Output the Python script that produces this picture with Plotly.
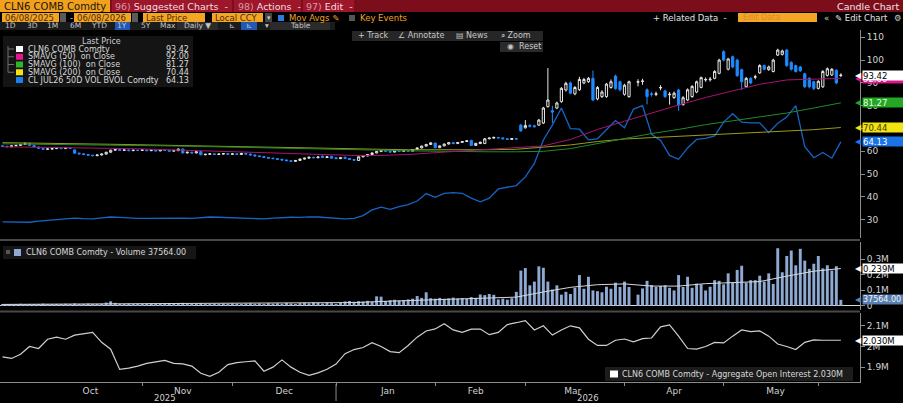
import pandas as pd
import plotly.graph_objects as go

W, H = 903, 403
FONT = "DejaVu Sans"

# Trading days on the chart (weekdays from the first bar; Good Friday has no data)
START = "2025-09-19"
N_DAYS = 187

open_px = [
    62.4, 62.2, 62.0, 62.4, 62.6, 63.0, 63.5, 62.6, 61.9, 61.3,
    60.9, 61.0, 61.2, 61.4, 61.2, 61.5, 60.6, 59.2, 58.9, 58.6,
    58.3, 58.1, 58.4, 58.8, 59.6, 60.5, 60.8, 60.4, 60.6, 60.3,
    60.5, 60.4, 60.6, 60.3, 60.5, 60.2, 60.7, 60.4, 60.1, 60.3,
    61.0, 59.3, 59.6, 59.3, 59.9, 58.5, 58.7, 58.9, 58.6, 58.8,
    59.0, 58.7, 58.9, 58.6, 59.1, 58.8, 58.4, 58.0, 57.7, 57.3,
    57.0, 56.8, 56.5, 56.2, 55.9, 55.6, 56.0, 56.6, 57.0, 57.4,
    57.2, 57.9, 57.3, 57.8, 57.2, 56.8, 57.4, 56.9, 56.4, 56.0,
    57.6, 58.0, 58.6, 59.3, 59.9, 60.4, 60.0, 59.7, 60.2, 60.0,
    60.3, 60.1, 60.8, 61.5, 62.3, 63.0, 63.6, 61.6, 62.4, 63.2,
    63.8, 63.4, 63.9, 64.3, 64.8, 62.6, 63.4, 63.4, 65.5, 65.8,
    66.1, 65.9, 65.5, 65.2, 65.6, 71.5, 70.3, 71.4, 71.2, 71.5,
    72.4, 79.6, 77.8, 79.0, 81.8, 86.9, 90.0, 85.2, 87.0, 90.0,
    90.5, 92.0, 83.0, 84.0, 84.0, 88.0, 93.0, 90.5, 85.0, 84.0,
    None, 90.3, 90.6, 87.0, 85.2, 85.0, 87.8, 86.5, 84.8, 83.6,
    86.9, 80.5, 82.5, 84.0, 86.0, 88.0, 91.3, 91.4, 92.0, 94.2,
    103.7, 96.0, 101.5, 100.0, 95.8, 88.3, 92.0, 92.5, 94.4, 97.6,
    95.8, 95.0, 102.2, 102.5, 104.4, 99.0, 97.6, 97.0, 94.0, 92.0,
    90.5, 87.6, 88.3, 93.3, 93.5, 95.5, 93.2,
]
high_px = [
    62.7, 62.5, 62.6, 62.9, 63.3, 63.9, 63.7, 62.8, 62.1, 61.5,
    61.3, 61.5, 61.7, 61.6, 61.8, 61.7, 60.9, 59.4, 59.1, 58.8,
    58.5, 58.6, 59.0, 59.8, 60.7, 61.1, 61.0, 60.8, 60.8, 60.7,
    60.7, 60.8, 60.8, 60.7, 60.7, 60.9, 60.9, 60.6, 60.5, 61.2,
    61.2, 59.8, 59.8, 60.1, 60.1, 58.9, 59.1, 59.1, 59.0, 59.2,
    59.2, 59.1, 59.1, 59.3, 59.3, 59.0, 58.6, 58.2, 57.9, 57.5,
    57.2, 57.0, 56.7, 56.4, 56.1, 56.2, 56.8, 57.2, 57.6, 57.6,
    57.7, 58.1, 57.8, 58.0, 57.4, 57.4, 57.6, 57.1, 56.6, 57.8,
    58.2, 58.8, 59.5, 60.1, 60.6, 60.6, 60.2, 60.4, 60.4, 60.5,
    60.5, 61.0, 61.7, 62.5, 63.3, 64.0, 63.8, 62.6, 63.4, 64.1,
    64.0, 64.1, 64.5, 64.9, 65.0, 63.7, 64.2, 65.8, 66.1, 66.4,
    66.3, 66.1, 65.7, 65.8, 65.8, 72.0, 73.7, 71.8, 71.6, 74.2,
    79.5, 96.5, 80.0, 81.8, 88.2, 90.5, 90.6, 88.6, 92.7, 92.2,
    92.6, 95.4, 88.6, 86.8, 90.0, 91.5, 93.6, 91.0, 89.6, 91.0,
    None, 91.6, 91.8, 87.6, 86.0, 86.2, 89.0, 87.0, 86.0, 86.2,
    87.4, 84.2, 87.6, 89.0, 91.0, 92.8, 92.4, 92.6, 95.6, 100.6,
    104.3, 101.0, 102.0, 100.6, 96.3, 92.6, 92.5, 93.6, 98.2, 98.0,
    97.6, 100.6, 105.0, 104.6, 104.9, 99.5, 98.0, 97.5, 94.5, 92.5,
    91.0, 91.2, 95.6, 96.8, 96.5, 96.0, 94.2,
]
low_px = [
    61.9, 61.8, 61.8, 62.2, 62.4, 62.8, 62.4, 61.7, 61.0, 60.6,
    60.7, 60.8, 61.0, 61.0, 61.0, 61.1, 58.9, 58.6, 58.3, 58.0,
    57.8, 57.9, 58.2, 58.6, 59.4, 60.3, 60.2, 60.2, 60.1, 60.1,
    60.2, 60.2, 60.1, 60.1, 60.0, 60.0, 60.2, 59.9, 59.9, 60.1,
    59.1, 59.1, 59.1, 59.1, 58.3, 58.3, 58.5, 58.4, 58.4, 58.6,
    58.5, 58.5, 58.4, 58.4, 58.6, 58.2, 57.8, 57.5, 57.1, 56.8,
    56.6, 56.3, 56.0, 55.7, 55.3, 55.4, 55.8, 56.4, 56.8, 57.0,
    57.0, 57.1, 57.1, 56.8, 56.6, 56.6, 56.7, 56.2, 55.9, 55.8,
    57.4, 57.8, 58.4, 59.1, 59.7, 59.8, 59.5, 59.5, 59.8, 59.8,
    59.9, 59.9, 60.6, 61.3, 62.1, 62.8, 61.3, 61.4, 62.2, 63.0,
    63.2, 63.2, 63.7, 64.1, 62.4, 62.4, 63.2, 63.2, 65.3, 65.6,
    65.7, 65.3, 65.0, 65.0, 65.2, 68.6, 70.0, 70.5, 70.4, 71.2,
    72.0, 79.2, 72.4, 78.5, 81.3, 86.2, 85.0, 84.6, 86.5, 89.4,
    90.0, 82.0, 82.4, 83.4, 83.5, 87.5, 87.0, 86.3, 84.4, 83.5,
    None, 88.5, 89.2, 80.6, 84.0, 84.2, 86.8, 83.4, 80.5, 83.0,
    77.8, 80.0, 82.0, 83.5, 85.5, 87.6, 90.5, 90.6, 91.6, 93.8,
    99.4, 95.5, 96.4, 92.6, 86.9, 87.8, 89.4, 91.6, 94.0, 95.5,
    95.3, 94.6, 101.8, 102.0, 97.0, 95.4, 94.5, 94.8, 87.8, 87.6,
    86.8, 87.1, 87.8, 92.8, 93.0, 89.4, 92.6,
]
close_px = [
    62.2, 62.0, 62.4, 62.6, 63.0, 63.5, 62.6, 61.9, 61.3, 60.9,
    61.0, 61.2, 61.4, 61.2, 61.5, 61.3, 59.2, 58.9, 58.6, 58.3,
    58.1, 58.4, 58.8, 59.6, 60.5, 60.8, 60.4, 60.6, 60.3, 60.5,
    60.4, 60.6, 60.3, 60.5, 60.2, 60.7, 60.4, 60.1, 60.3, 61.0,
    59.3, 59.6, 59.3, 59.8, 58.5, 58.7, 58.9, 58.6, 58.8, 59.0,
    58.7, 58.9, 58.6, 59.1, 58.8, 58.4, 58.0, 57.7, 57.3, 57.0,
    56.8, 56.5, 56.2, 55.9, 55.6, 56.0, 56.6, 57.0, 57.4, 57.2,
    57.5, 57.3, 57.6, 57.0, 56.8, 57.2, 56.9, 56.4, 56.1, 57.6,
    58.0, 58.6, 59.3, 59.9, 60.4, 60.0, 59.7, 60.2, 60.0, 60.3,
    60.1, 60.8, 61.5, 62.3, 63.0, 63.7, 61.6, 62.4, 63.2, 63.8,
    63.4, 63.9, 64.3, 64.6, 62.6, 63.5, 64.0, 65.5, 65.8, 66.1,
    65.9, 65.5, 65.2, 65.6, 65.4, 69.0, 71.3, 71.0, 70.8, 73.7,
    79.0, 82.5, 77.2, 81.2, 87.6, 89.8, 85.5, 88.0, 91.5, 91.5,
    92.0, 82.5, 88.0, 86.0, 89.5, 90.5, 87.5, 87.0, 89.0, 90.5,
    None, 90.5, 90.8, 84.0, 85.0, 85.2, 88.0, 84.0, 85.0, 85.5,
    80.3, 83.5, 87.0, 88.5, 90.5, 92.3, 91.5, 91.6, 95.0, 100.0,
    100.0, 100.5, 97.0, 93.2, 90.5, 92.0, 90.0, 92.7, 97.6, 96.0,
    97.0, 100.0, 104.4, 104.0, 97.6, 96.0, 95.0, 95.3, 88.3, 88.3,
    87.6, 90.7, 95.0, 96.2, 96.0, 90.0, 93.42,
]

# daily volume, millions of contracts
volume_m = [
    0.008, 0.006, 0.010, 0.007, 0.012, 0.009, 0.011, 0.008, 0.010, 0.013,
    0.007, 0.009, 0.011, 0.008, 0.012, 0.010, 0.014, 0.009, 0.011, 0.013,
    0.010, 0.008, 0.012, 0.020, 0.028, 0.018, 0.011, 0.009, 0.013, 0.010,
    0.012, 0.009, 0.011, 0.014, 0.010, 0.012, 0.009, 0.013, 0.011, 0.015,
    0.018, 0.012, 0.010, 0.013, 0.016, 0.011, 0.009, 0.012, 0.010, 0.013,
    0.011, 0.014, 0.012, 0.010, 0.013, 0.015, 0.012, 0.014, 0.011, 0.016,
    0.013, 0.015, 0.012, 0.017, 0.014, 0.011, 0.016, 0.018, 0.015, 0.020,
    0.017, 0.014, 0.019, 0.016, 0.012, 0.018, 0.027, 0.030, 0.025, 0.029,
    0.026, 0.031, 0.024, 0.060, 0.058, 0.030, 0.035, 0.038, 0.033, 0.036,
    0.040, 0.045, 0.062, 0.050, 0.086, 0.048, 0.045, 0.050, 0.044, 0.047,
    0.052, 0.046, 0.049, 0.043, 0.055, 0.050, 0.072, 0.068, 0.075, 0.070,
    0.040, 0.045, 0.038, 0.048, 0.089, 0.226, 0.242, 0.131, 0.155, 0.253,
    0.244, 0.155, 0.104, 0.131, 0.071, 0.089, 0.075, 0.115, 0.197, 0.109,
    0.186, 0.098, 0.093, 0.086, 0.122, 0.109, 0.148, 0.120, 0.155, 0.120,
    None, 0.071, 0.111, 0.160, 0.133, 0.120, 0.126, 0.131, 0.115, 0.098,
    0.197, 0.120, 0.186, 0.115, 0.142, 0.137, 0.098, 0.122, 0.164, 0.160,
    0.137, 0.208, 0.148, 0.230, 0.257, 0.148, 0.164, 0.164, 0.193, 0.155,
    0.208, 0.140, 0.370, 0.215, 0.320, 0.355, 0.260, 0.366, 0.290, 0.237,
    0.270, 0.320, 0.240, 0.260, 0.226, 0.254, 0.0376,
]

# every 6th trading day: moving averages
sma50 = [62.0, 61.9, 61.7, 61.5, 61.3, 61.1, 60.8, 60.2, 59.9, 59.6, 59.3, 58.9, 58.5, 58.2, 58.2, 58.6,
         59.4, 60.2, 60.9, 61.6, 62.4, 65.2, 69.6, 73.2, 76.8, 80.3, 83.6, 86.6, 89.4, 91.3, 91.7, 92.0]
sma100 = [63.3, 63.2, 63.1, 63.0, 62.8, 62.6, 62.4, 62.2, 62.0, 61.8, 61.6, 61.4, 61.1, 60.8, 60.5, 60.2,
          60.0, 59.9, 59.8, 59.8, 60.0, 61.2, 63.4, 65.8, 67.8, 69.6, 71.7, 73.4, 75.0, 76.8, 79.0, 81.27]
sma200 = [63.8, 63.7, 63.5, 63.3, 63.1, 62.9, 62.6, 62.4, 62.2, 62.0, 61.8, 61.5, 61.3, 61.1, 60.9, 60.7,
          60.6, 60.6, 60.7, 60.9, 61.7, 62.8, 64.3, 65.4, 66.0, 66.6, 67.1, 67.6, 68.2, 68.7, 69.5, 70.44]
vol_ma_m = [0.008, 0.009, 0.010, 0.011, 0.011, 0.012, 0.012, 0.013, 0.013, 0.014, 0.014, 0.015, 0.016,
            0.020, 0.027, 0.033, 0.040, 0.045, 0.050, 0.055, 0.088, 0.118, 0.135, 0.140, 0.126, 0.126,
            0.142, 0.148, 0.155, 0.190, 0.222, 0.239]

# every 2nd trading day: CL JUL26 50D vol and aggregate open interest (millions)
bvol = [
    29.1, 29.0, 29.0, 28.9, 29.4, 29.8, 30.0, 30.4, 30.7, 30.5,
    30.4, 30.8, 31.2, 31.0, 30.7, 30.6, 30.6, 30.7, 30.8, 30.6,
    30.7, 30.6, 31.0, 31.2, 31.1, 31.0, 30.8, 30.9, 30.6, 30.4,
    30.7, 31.0, 31.1, 31.0, 31.3, 31.2, 31.0, 30.7, 30.4, 30.6,
    31.8, 34.3, 35.5, 34.6, 35.8, 36.6, 38.2, 41.5, 39.8, 41.6,
    41.9, 41.6, 39.5, 37.9, 39.5, 43.5, 44.2, 45.0, 48.8, 54.7,
    65.0, 71.5, 79.0, 70.0, 69.7, 65.0, 65.5, 69.5, 73.5, 70.3,
    78.5, 80.0, 67.5, 64.8, 58.2, 56.5, 61.5, 65.2, 65.7, 66.8,
    72.8, 76.5, 72.8, 72.5, 72.5, 68.2, 72.3, 75.0, 80.0, 62.0,
    57.2, 59.5, 57.0, 64.13,
]
open_int_m = [
    1.950, 1.942, 1.962, 2.000, 1.990, 2.035, 2.045, 2.035, 2.055, 2.062,
    2.068, 2.020, 1.987, 1.889, 1.895, 1.905, 1.918, 1.925, 1.933, 1.918,
    1.916, 1.905, 1.870, 1.855, 1.875, 1.912, 1.922, 1.926, 1.930, 1.880,
    1.900, 1.935, 1.900, 1.875, 1.860, 1.872, 1.890, 1.915, 1.965, 1.985,
    1.995, 2.018, 2.000, 1.975, 1.970, 2.005, 2.045, 2.075, 2.085, 2.110,
    2.080, 2.068, 2.084, 2.084, 2.057, 2.068, 2.106, 2.115, 2.125, 2.080,
    2.100, 2.055, 2.080, 2.100, 2.090, 2.035, 2.005, 2.005, 2.030, 2.036,
    2.022, 2.038, 2.041, 2.095, 2.104, 2.050, 1.990, 1.987, 2.000, 2.020,
    2.017, 2.050, 2.080, 2.072, 2.075, 2.050, 2.012, 2.000, 1.985, 2.020,
    2.032, 2.030, 2.030, 2.030,
]

# last values shown in the legends / axis tags
last_price, last_sma50, last_sma100, last_sma200, last_bvol = 93.42, 92.00, 81.27, 70.44, 64.13
last_volume, last_vol_ma, last_oi = 37564.00, 0.239, 2.030

days = pd.bdate_range(START, periods=N_DAYS)
days2 = days[::2]
days6 = days[::6]

# panel geometry (pixels -> paper)
X_DOM = [0, 860 / W]
PRICE_DOM = [1 - 238 / H, 1 - 30 / H]
VOL_DOM = [1 - 310 / H, 1 - 242 / H]
OI_DOM = [1 - 382 / H, 1 - 313 / H]
X_RANGE = ["2025-09-18 10:40", "2026-06-12 06:00"]
PRICE_RANGE = [22, 113.2]
VOL_RANGE = [-0.028, 0.41]
OI_RANGE = [1.828, 2.162]

fig = go.Figure()

fig.add_trace(go.Scatter(x=days2, y=bvol, mode="lines", line=dict(color="#1664c4", width=1.3),
                         xaxis="x", yaxis="y", hoverinfo="skip"))
fig.add_trace(go.Scatter(x=days6, y=sma200, mode="lines", line=dict(color="#9c9a1c", width=1),
                         xaxis="x", yaxis="y", hoverinfo="skip"))
fig.add_trace(go.Scatter(x=days6, y=sma100, mode="lines", line=dict(color="#1e8c28", width=1),
                         xaxis="x", yaxis="y", hoverinfo="skip"))
fig.add_trace(go.Scatter(x=days6, y=sma50, mode="lines", line=dict(color="#a4166f", width=1),
                         xaxis="x", yaxis="y", hoverinfo="skip"))
fig.add_trace(go.Candlestick(
    x=days, open=open_px, high=high_px, low=low_px, close=close_px,
    increasing=dict(line=dict(color="#e6e6e6", width=1), fillcolor="#000000"),
    decreasing=dict(line=dict(color="#1e8bff", width=1), fillcolor="#1e8bff"),
    whiskerwidth=0, xaxis="x", yaxis="y", hoverinfo="skip"))

fig.add_trace(go.Bar(x=days, y=volume_m, marker=dict(color="#8eaad3", line=dict(width=0)),
                     xaxis="x2", yaxis="y2", hoverinfo="skip"))
fig.add_trace(go.Scatter(x=days6, y=vol_ma_m, mode="lines", line=dict(color="#d8d8d8", width=1),
                         xaxis="x2", yaxis="y2", hoverinfo="skip"))

fig.add_trace(go.Scatter(x=days2, y=open_int_m, mode="lines", line=dict(color="#cfcfcf", width=1.2),
                         xaxis="x3", yaxis="y3", hoverinfo="skip"))

x_common = dict(domain=X_DOM, type="date", range=X_RANGE, rangebreaks=[dict(bounds=["sat", "mon"])],
                showgrid=False, zeroline=False, fixedrange=True, automargin=False)
y_common = dict(side="right", showgrid=False, zeroline=False, showline=True, linecolor="#8c8c8c",
                ticks="outside", ticklen=4, tickcolor="#8c8c8c", fixedrange=True, automargin=False,
                tickfont=dict(family=FONT, size=9, color="#d2d2d2"))

fig.update_layout(
    width=W, height=H, paper_bgcolor="#000000", plot_bgcolor="#000000",
    margin=dict(l=0, r=0, t=0, b=0), showlegend=False, bargap=0.35, hovermode=False,
    font=dict(family=FONT, color="#d2d2d2"),
    xaxis=dict(x_common, anchor="y", showticklabels=False, rangeslider=dict(visible=False)),
    xaxis2=dict(x_common, anchor="y2", matches="x", showticklabels=False),
    xaxis3=dict(x_common, anchor="y3", matches="x", showticklabels=True, ticks="outside", ticklen=3,
                tickcolor="#8c8c8c", showline=True, linecolor="#8c8c8c", dtick="M1", tick0="2025-10-01",
                tickformat="%b", ticklabelmode="period", ticklabelstandoff=-3,
                tickfont=dict(family=FONT, size=9, color="#d2d2d2")),
    yaxis=dict(y_common, domain=PRICE_DOM, anchor="x", range=PRICE_RANGE,
               tickvals=[30, 40, 50, 60, 70, 80, 90, 100, 110]),
    yaxis2=dict(y_common, domain=VOL_DOM, anchor="x2", range=VOL_RANGE, zeroline=True,
                zerolinecolor="#d8d8d8", zerolinewidth=1,
                tickvals=[0, 0.1, 0.2, 0.3], ticktext=["0", "0.1M", "0.2M", "0.3M"]),
    yaxis3=dict(y_common, domain=OI_DOM, anchor="x3", range=OI_RANGE,
                tickvals=[1.9, 2.0, 2.1], ticktext=["1.9M", "2M", "2.1M"]),
)


def box(x0, y0, x1, y1, fill):
    fig.add_shape(type="rect", xref="paper", yref="paper", x0=x0 / W, x1=x1 / W,
                  y0=1 - y1 / H, y1=1 - y0 / H, fillcolor=fill, line=dict(width=0), layer="above")


def rule(x0, y0, x1, y1, color, width=1):
    fig.add_shape(type="line", xref="paper", yref="paper", x0=x0 / W, x1=x1 / W,
                  y0=1 - y0 / H, y1=1 - y1 / H, line=dict(color=color, width=width), layer="above")


def label(x, y, text, size=8, color="#d2d2d2", anchor="left"):
    fig.add_annotation(x=x / W, y=1 - y / H, xref="paper", yref="paper", text=text, showarrow=False,
                       xanchor=anchor, yanchor="middle", borderpad=0,
                       font=dict(family=FONT, size=size, color=color))


def tag(value, yref, text, bg, fg, size=8.5):
    # value marker on the right axis: pointer + filled box
    fig.add_annotation(x=863 / W, y=value, xref="paper", yref=yref, text="◀", showarrow=False,
                       xanchor="right", yanchor="middle", borderpad=0,
                       font=dict(family=FONT, size=8, color=bg))
    fig.add_annotation(x=862 / W, y=value, xref="paper", yref=yref, text=text, showarrow=False,
                       xanchor="left", yanchor="middle", width=40, height=9, align="left",
                       bgcolor=bg, borderpad=0, font=dict(family=FONT, size=size, color=fg))


# panel separators
rule(0, 240, 860, 240, "#484848", 2)
rule(0, 311.5, 860, 311.5, "#484848", 2)

# header row 1
box(0, 0, 903, 12, "#7c0d1b")
box(0, 0, 110, 12, "#f2a11f")
box(112, 0, 232, 12, "#9e162a")
box(234, 0, 301, 12, "#9e162a")
box(303, 0, 354, 12, "#9e162a")
label(3, 6.5, "CLN6 COMB Comdty", 10, "#20150a")
label(114, 6.5, "<span style='color:#d59aa3'>96)</span> Suggested Charts  -", 9.5, "#f3dfe1")
label(237, 6.5, "<span style='color:#d59aa3'>98)</span> Actions  -", 9.5, "#f3dfe1")
label(305, 6.5, "<span style='color:#d59aa3'>97)</span> Edit  -", 9.5, "#f3dfe1")
label(900, 6.5, "Candle Chart", 9.5, "#f3e6e6", "right")

# header row 2
for x0, x1, txt in [(2, 59, "06/08/2025"), (74, 131, "06/08/2026"), (143, 205, "Last Price"),
                    (212, 263, "Local CCY")]:
    box(x0, 13, x1, 22, "#f5a524")
    label(x0 + 2, 17.5, txt, 8.5, "#4a2c05")
box(60, 13, 66, 22, "#5a5a5a")
box(132, 13, 138, 22, "#5a5a5a")
label(69, 17.5, "-", 8.5, "#cccccc")
box(265, 13, 272, 22, "#444444")
label(268.5, 17.5, "▾", 7, "#cccccc", "center")
box(278, 15, 284, 21, "#2a7ce0")
label(288, 17.5, "Mov Avgs ✎", 8.5, "#f0a020")
box(349, 15, 355, 21, "#555555")
label(359, 17.5, "Key Events", 8.5, "#f0a020")
label(728, 17.5, "+ Related Data  -", 8.5, "#e2e2e2", "right")
box(738, 13, 817, 22, "#f5a524")
label(742, 17.5, "Edit Data", 8, "#d98e2a")
label(823, 17.5, "«", 8.5, "#cccccc")
label(834, 17.5, "✎ Edit Chart", 8.5, "#e2e2e2")
label(898, 17.5, "⚙", 8.5, "#cccccc", "center")

# header row 3
box(0, 22, 335, 30, "#1b1b1b")
box(115, 22, 130, 30, "#1f58b5")
box(177, 22, 218, 30, "#2b2b2b")
box(241, 22, 257, 30, "#1f58b5")
box(270, 22, 330, 30, "#2b2b2b")
for x, txt in [(10, "1D"), (32, "3D"), (52, "1M"), (75, "6M"), (99, "YTD"), (122, "1Y"), (146, "5Y"),
               (168, "Max"), (197, "Daily ▼"), (232, "⊾"), (249, "⊾"), (267, "▾"), (300, "Table")]:
    label(x, 26, txt, 7.5, "#c4c4c4", "center")

# chart toolbar
box(352, 31, 543, 41, "#262626")
label(357, 36, "+ Track", 8, "#c8c8c8")
label(397, 36, "∠ Annotate", 8, "#c8c8c8")
label(455, 36, "▤ News", 8, "#c8c8c8")
label(500, 36, "⌕ Zoom", 8, "#c8c8c8")
box(500, 42, 543, 52, "#2a2a2a")
label(506, 47, "◉  Reset", 8, "#c8c8c8")

# price legend
box(3, 36, 193, 87, "#141414")
label(101, 41.5, "Last Price", 8, "#cfcfcf", "center")
rule(8, 46, 8, 72.3, "#6e6e6e")
rows = [("#ffffff", "CLN6 COMB Comdty", last_price), ("#e8168e", "SMAVG (50)  on Close", last_sma50),
        ("#2db52d", "SMAVG (100)  on Close", last_sma100), ("#f5e50f", "SMAVG (200)  on Close", last_sma200),
        ("#1c7ef5", "CL JUL26 50D VOL BVOL Comdty", last_bvol)]
for i, (c, name, val) in enumerate(rows):
    yy = 49 + 7.75 * i
    if i < 4:
        rule(8, yy, 14, yy, "#6e6e6e")
    box(16, yy - 3, 23, yy + 3, c)
    label(27, yy, name, 8, "#d8d8d8")
    label(190, yy, f"{val:.2f}", 8, "#d8d8d8", "right")

# volume legend
box(3, 246, 196, 259, "#161616")
box(6, 250, 10, 254, "#555555")
box(14, 249, 21, 256, "#8eaad3")
label(25, 252.5, f"CLN6 COMB Comdty - Volume {last_volume:.2f}", 8, "#d8d8d8")

# open interest legend
box(605, 367, 853, 381, "#1c1c1c")
box(610, 370.5, 618, 377.5, "#ffffff")
label(621, 374, f"CLN6 COMB Comdty - Aggregate Open Interest {last_oi:.3f}M", 8, "#d8d8d8")

# year labels and year divider on the date axis
for when, yr in [("2025-11-10", "2025"), ("2026-03-20", "2026")]:
    fig.add_annotation(x=when, y=1 - 397.5 / H, xref="x3", yref="paper", text=yr, showarrow=False,
                       yanchor="middle", borderpad=0, font=dict(family=FONT, size=8.5, color="#d2d2d2"))
fig.add_shape(type="line", xref="x3", yref="paper", x0="2026-01-01", x1="2026-01-01",
              y0=1 - 384 / H, y1=1 - 401 / H, line=dict(color="#8c8c8c", width=1))

# right-axis value tags (drawn back to front)
tag(last_sma50, "y", f"{last_sma50:.2f}", "#d8178a", "#ffffff")
tag(last_price, "y", f"{last_price:.2f}", "#ffffff", "#000000")
tag(last_sma100, "y", f"{last_sma100:.2f}", "#22a822", "#e6ffe6")
tag(last_sma200, "y", f"{last_sma200:.2f}", "#f2e312", "#3a3a00")
tag(last_bvol, "y", f"{last_bvol:.2f}", "#1a74e8", "#ffffff")
tag(last_vol_ma, "y2", f"{last_vol_ma:.3f}M", "#ffffff", "#000000")
tag(last_volume / 1e6, "y2", f"{last_volume:.2f}", "#5a7fae", "#eef3ff", 8)
tag(last_oi, "y3", f"{last_oi:.3f}M", "#ffffff", "#000000")

# the page body has a default margin; pin the chart to the window corner
fig.write_html("out.html", config=dict(displayModeBar=False),
               post_script="document.body.style.margin='0';")
